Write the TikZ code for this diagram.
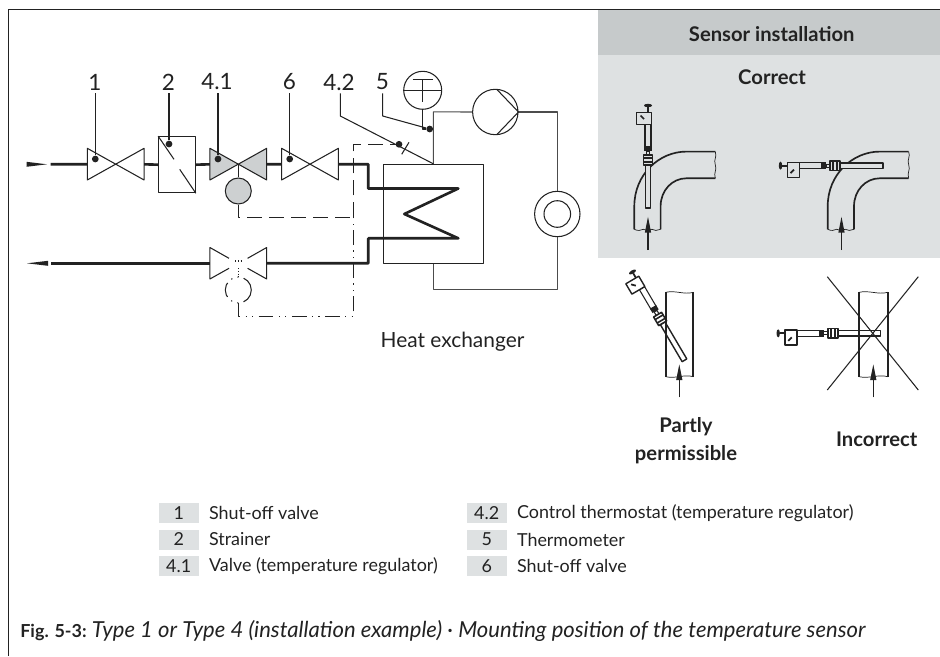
\documentclass[tikz,border=0pt]{standalone}
\usepackage{fontspec}
\setmainfont{Lato}
\usetikzlibrary{arrows.meta}
\definecolor{panelhead}{HTML}{C6CACB}
\definecolor{panelbody}{HTML}{DEE1E2}
\definecolor{valvegray}{HTML}{CDD0D1}
\definecolor{inkdark}{HTML}{222222}
\begin{document}
\begin{tikzpicture}[x=.02cm,y=-.02cm,>={Stealth[length=9pt,width=3.4pt,inset=0pt]},line join=round,
    line/.style={line width=.6pt,draw=inkdark},
    pipe/.style={line width=1.5pt,draw=inkdark},
    wall/.style={line width=.95pt,draw=inkdark},
    dot/.style={circle,fill=inkdark,inner sep=0pt,minimum size=.135cm},
    ctl/.style={line,dash pattern=on 8.5pt off 4pt},
    ctlb/.style={line,dash pattern=on 8.5pt off 3pt on .7pt off 3pt on .7pt off 3pt},
    num/.style={font=\fontsize{12.8}{14}\selectfont,text=inkdark,inner sep=0pt},
    txt/.style={font=\fontsize{10.2}{13}\selectfont,text=inkdark,inner sep=0pt,anchor=west},
    hd/.style={font=\bfseries\fontsize{11.5}{16}\selectfont,text=inkdark,inner sep=0pt,align=center},
    key/.style={fill=panelbody,minimum width=.8cm,minimum height=.4cm,inner sep=0pt,
        font=\fontsize{10.2}{13}\selectfont,text=inkdark}]
    \useasboundingbox (0,0) rectangle (940,656);
    % frame and panel
    \fill[panelbody] (598.3,55) rectangle (940,257.5);
    \fill[panelhead] (598.3,9.5) rectangle (940,55);
    \draw[line width=.7pt,draw=inkdark] (8.5,656)--(8.5,9.3)--(940,9.3);
    % valves
    \foreach \n/\x/\c in {v1/115.7/white,v41/238.3/valvegray,v6/310/white}{
        \coordinate (\n l) at (\x-28.4,164.3);
        \coordinate (\n r) at (\x+28.4,164.3);
        \draw[line,fill=\c] (\x-28.4,148.3)--(\x+28.4,180)--(\x+28.4,148.3)--(\x-28.4,180)--cycle;
    }
    \coordinate (rvl) at (209.9,263.3);
    \coordinate (rvr) at (266.7,263.3);
    \draw[line] (229,258.3)--(209.9,247.5)--(209.9,279)--(229,268.3)
        (247.6,258.3)--(266.7,247.5)--(266.7,279)--(247.6,268.3);
    \draw[line,densely dotted] (235,261)--(242,261) (238.3,268)--(238.3,277);
    % strainer
    \node[line,draw,minimum width=.732cm,minimum height=1.12cm,inner sep=0pt] (strainer) at (177,164.7) {};
    \draw[line] (strainer.north west)--(174,159.3) (179.7,169.3)--(strainer.south east);
    % temperature regulator and its return copy
    \node[line,draw,circle,fill=valvegray,minimum size=.52cm,inner sep=0pt] (reg) at (238.3,191) {};
    \node[inner sep=0pt,circle,minimum size=.52cm] (regb) at (238.3,290) {};
    \draw[ctlb] (regb) circle (13);
    \draw[line] (238.3,164.3)--(reg.north);
    \draw[ctl] (reg.south)--(238.3,217.3)--(353.3,217.3);
    \draw[ctlb] (regb.south)--(238.3,316.3)--(353.3,316.3)--(353.3,217.3);
    % heat exchanger
    \node[line,draw,minimum width=2cm,minimum height=1.98cm,inner sep=0pt] (hx) at (433.3,213.8) {};
    % circuit
    \node[line,draw,circle,minimum size=.908cm,inner sep=0pt] (pump) at (495.3,112) {};
    \node[line,draw,circle,minimum size=.908cm,inner sep=0pt] (ring) at (557.3,214) {};
    \node[line,draw,circle,minimum size=.532cm,inner sep=0pt] at (ring) {};
    \node[line,draw,circle,minimum size=.76cm,inner sep=0pt] (therm) at (422.7,90.3) {};
    \draw[line] (496.7,89.3)--(pump.east)--(496.7,134.7);
    \draw[line] (therm.west)--(therm.east) (412.7,79.3)--(432.7,79.3) (422.7,79.3)--(422.7,101.7);
    \draw[line,draw=black!70] (hx.north)--(433.3,111.9)--(pump.west);
    \draw[line,draw=black!70] (pump.east)-|(ring.north);
    \draw[line,draw=black!70] (ring.south)--(557.3,289.3)-|(hx.south);
    % pipes
    \draw[pipe] (50.7,164.3)--(v1l) (v1r)--(strainer.west) (strainer.east)--(v41l) (v41r)--(v6l);
    \draw[pipe] (v6r)--(368.3,164.3)--(368.3,188.5)--(458.3,188.5)--(404.3,214)--(458.3,238.3)
        --(368.3,238.3)--(368.3,263.3)--(rvr);
    \draw[pipe] (rvl)--(50.7,263.3);
    \fill[inkdark] (26.5,161.8)--(47,164.3)--(26.5,166.8)--cycle;
    \fill[inkdark] (27,263.3)--(48,260.8)--(48,265.8)--cycle;
    % labels and leaders
    \foreach \n/\t/\x/\d/\y in {1/1/95/95.3/159,2/2/168.5/169/144,41/4.1/217/218/159,6/6/289.5/289.7/159}{
        \node[num] (l\n) at (\x,82) {\t};
        \node[dot] (d\n) at (\d,\y) {};
        \draw[line] (d\n)--(\d,93.3);
    }
    \node[num] (l42) at (339,82) {4.2};
    \node[num] (l5) at (382.5,82) {5};
    \node[dot] (d42) at (399,144.3) {};
    \node[dot] (d5) at (429.7,129) {};
    \draw[line] (340.3,93.3)--(340.3,116)--(hx.north);
    \draw[line] (382.7,93.3)--(382.7,116)--(d5);
    \draw[line] (therm.south)--(422.7,129)--(d5);
    \draw[line] (401.7,154.3)--(409,142.3);
    \draw[ctl] (353.3,217.3)--(353.3,144.3)--(d42);
    \node[txt,anchor=center,font=\fontsize{11.9}{13}\selectfont] (hxlabel) at (452.5,342) {Heat exchanger};
    % sensor, drawn along +x from the knob
    \def\sensor#1{
        \fill[inkdark] (1.5,0) ellipse (1.7 and 4);
        \draw[line,line width=1pt] (3,0)--(8.3,0);
        \draw[line,fill=#1] (20.3,-3)rectangle(43,3);
        \draw[line,fill=#1] (47,-1.6)rectangle(51,1.6);
        \draw[line,line width=.8pt,fill=#1] (61,-2.7)rectangle(104,2.7);
        \fill[inkdark] (42,-3.6)rectangle(47,3.6);
        \draw[line,line width=.9pt,fill=#1] (51,-4.6)rectangle(61,4.6);
        \draw[line,line width=.9pt] (54,-4.6)--(54,4.6) (58,-4.6)--(58,4.6);
        \draw[line,line width=.8pt,fill=#1] (8.3,-3.3)rectangle(20.3,11.7);
        \draw[line,line width=1pt] (11.5,7.5)--(15,4);
    }
    % elbow, origin at lower left end
    \def\elbow{
        \draw[wall] (0,0)--(0,-23) .. controls (0,-55) and (25,-77.7) .. (52,-77.7)--(81,-77.7);
        \draw[wall] (81,-51)--(52,-51) .. controls (38,-51) and (26.3,-39) .. (26.3,-23)--(26.3,0);
        \draw[line,line width=.4pt] (81,-77.7) .. controls (83,-72) and (79,-70) .. (81,-64.5) .. controls (83,-59) and (79,-57) .. (81,-51);
        \draw[line,line width=.4pt] (0,0) .. controls (4,2) and (6,1) .. (9,0) .. controls (12,2) and (14,1) .. (17.5,0) .. controls (20,2) and (23,1) .. (26.3,0);
    }
    \foreach \ox in {634.3,827.7}{
        \begin{scope}[shift={(\ox,229.3)}]
            \elbow
        \end{scope}
    }
    \begin{scope}[shift={(648,104)},rotate=-90]
        \sensor{panelbody}
    \end{scope}
    \begin{scope}[shift={(779,165.7)}]
        \sensor{panelbody}
    \end{scope}
    \begin{scope}[shift={(631.7,270.7)},rotate=-59.5]
        \sensor{white}
    \end{scope}
    \begin{scope}[shift={(776.7,333.3)}]
        \sensor{white}
    \end{scope}
    \foreach \x/\w in {666/693.3,859.3/887.7}{
        \draw[wall] (\x,292.3)--(\x,376.7) (\w,292.3)--(\w,376.7);
        \draw[line,line width=.4pt] (\x,292.3) .. controls (\x+9,290) and (\w-9,295) .. (\w,292.3);
        \draw[line,line width=.4pt] (\x,376.7) .. controls (\x+9,379) and (\w-9,374) .. (\w,376.7);
    }
    \foreach \x/\a/\b in {648/250/216.7,841.5/250/216.7,679.3/397.3/364.3,873.3/397.3/364.3}
        \draw[->,line] (\x,\a)--(\x,\b);
    \draw[line] (827.3,276.7)--(918.3,390) (918.3,276.7)--(827.3,390);
    % headings
    \node[hd] (title) at (771.7,34) {Sensor installation};
    \node[hd] (correct) at (772,76.7) {Correct};
    \node[hd] (partly) at (686,441) {Partly\\permissible};
    \node[hd] (wrong) at (876.7,439.3) {Incorrect};
    % legend
    \foreach \n/\x/\y/\k/\t in {a/178.7/513/1/Shut-off valve,b/178.7/539.5/2/Strainer,c/178.7/566.3/4.1/Valve (temperature regulator),
        d/486.7/513/4.2/Control thermostat (temperature regulator),e/486.7/539.5/5/Thermometer,f/486.7/566.3/6/Shut-off valve}{
        \node[key] (k\n) at (\x,\y) {\k};
        \node[txt] (t\n) at (\x+30,\y) {\t};
    }
    \node[inner sep=0pt,anchor=west,text=inkdark] (caption) at (20,631)
        {\fontsize{10.2}{13}\selectfont\textbf{Fig. 5-3:}\hspace{3pt}\fontsize{12.55}{13}\selectfont\textit{Type 1 or Type 4 (installation example) · Mounting position of the temperature sensor}};
\end{tikzpicture}
\end{document}
